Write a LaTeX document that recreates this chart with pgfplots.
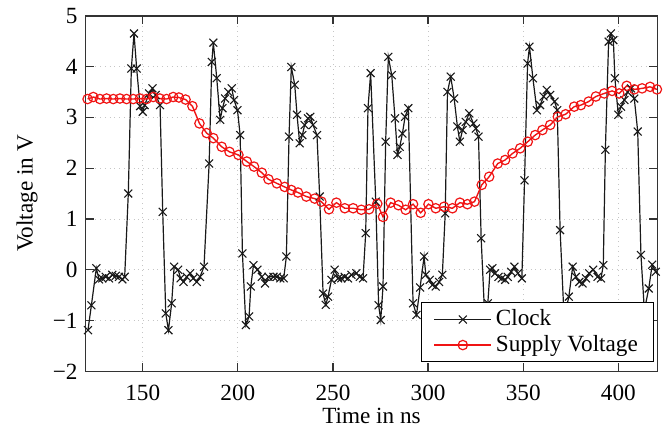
\documentclass[border=0pt]{standalone}
\usepackage{pgfplots}
\pgfplotsset{compat=1.18}
\usepackage{fontspec}
\setmainfont{Liberation Serif}
\newcommand{\cf}{\fontsize{11.6bp}{14bp}\selectfont}
\definecolor{supred}{RGB}{240,20,20}
\begin{document}
\begin{tikzpicture}
\cf
\begin{axis}[
  scale only axis,
  width=285.8bp, height=177.8bp,
  xmin=120, xmax=420.5, ymin=-2, ymax=5,
  xtick={150,200,250,300,350,400},
  xticklabels={150,200,250,300,350,400},
  ytick={-2,-1,0,1,2,3,4,5},
  yticklabels={−2,−1,0,1,2,3,4,5},
  tick label style={font=\cf},
  label style={font=\cf},
  xlabel={Time in ns}, ylabel={Voltage in V},
  xlabel style={at={(rel axis cs:0.5,-0.1257)}, anchor=center},
  ylabel style={at={(rel axis cs:-0.1027,0.5)}, anchor=center},
  grid=major,
  major grid style={line width=0.4bp, gray!45, dotted},
  axis line style={line width=0.8bp, black!80},
  major tick length=4bp,
  tick style={line width=0.6bp, black!80},
  xticklabel style={yshift=-3bp},
  yticklabel style={xshift=0bp},
  legend style={at={(rel axis cs:0.995,0.025)}, anchor=south east, font=\cf,
    draw=black, line width=0.6bp, inner xsep=6bp, inner ysep=1.5bp, row sep=-1bp,
    fill=white},
  legend cell align=left,
  legend image code/.code={\draw[mark repeat=2,mark phase=2] plot coordinates {(0cm,0cm) (0.5cm,0cm) (1cm,0cm)};},
  clip=true,
]
\addplot[black!90, line width=0.6bp, mark=x, mark size=2.8bp, mark options={solid, line width=0.55bp}] coordinates {
(121.2,-1.19) (123,-0.70) (125.6,0.03) (127,-0.19) (128.7,-0.17) (130.5,-0.14) (132.3,-0.17) (134,-0.10) (135.8,-0.12) (137.5,-0.14) (139.3,-0.19) (140.5,-0.14)
(142.4,1.50) (144,3.96) (145.4,4.65) (146.8,3.96) (148.6,3.22) (150,3.11) (151,3.24) (153.3,3.47) (155.1,3.57) (156.8,3.44) (159.1,3.24)
(160.5,1.14) (162.1,-0.86) (163.5,-1.19) (165.2,-0.66) (166.5,0.06) (168.6,0) (169.9,-0.17) (171.4,-0.24) (173.1,-0.14) (174.9,-0.07) (176.6,-0.17) (178.4,-0.24) (180.1,-0.14) (182.2,0.06)
(184.9,2.09) (186.3,4.09) (187.1,4.47) (188.9,3.77) (190.7,2.95) (191.9,3.18) (193.3,3.37) (195,3.50) (196.8,3.57) (198,3.34) (199.8,3.14) (201.2,2.65)
(202.4,0.32) (204.2,-1.09) (205.9,-0.92) (206.8,-0.33) (208.2,0.09) (210.3,0) (212.6,-0.14) (214.3,-0.27) (216.1,-0.14) (218.7,-0.14) (220.5,-0.14) (222.3,-0.17) (224.1,-0.17) (225.5,0.26)
(226.9,2.62) (228.1,3.99) (229.9,3.64) (231.1,3.05) (232.5,2.49) (233.9,2.65) (235.1,2.85) (236.9,2.98) (238.1,3.01) (239.5,2.85) (241.6,2.65)
(243,1.44) (244.8,-0.47) (246.2,-0.69) (247.4,-0.53) (249.2,-0.20) (250.9,0) (252.7,-0.17) (254.4,-0.17) (256.2,-0.14) (257.9,-0.17) (259.7,-0.10) (262.3,-0.07) (264.1,-0.14) (265.8,-0.17)
(267.2,0.72) (268.4,3.18) (269.8,3.87) (272.5,1.34) (274,-0.70) (275.1,-0.99) (276.3,-0.33)
(277.7,2.52) (279.1,4.19) (280.9,3.83) (282.6,2.98) (283.9,2.26) (285.1,2.42) (286.5,2.68) (287.9,3.01) (289.6,3.18)
(292.1,-0.66) (293.9,-0.89) (295.8,-0.35) (297.9,0.26) (298.8,-0.10) (300.9,-0.20) (302.3,-0.30) (304,-0.33) (305.8,-0.24) (307.5,-0.10)
(309,1.11) (310.2,3.50) (311.9,3.80) (313.7,3.37) (315.4,2.82) (316.7,2.52) (318.1,2.75) (319.8,2.91) (321.6,3.08) (323.8,2.88) (325.1,2.78) (326.5,2.62)
(327.9,0.62) (329.6,-0.79) (331.4,-0.66) (332.6,0) (333.8,0.03) (335.2,-0.07) (337,-0.14) (338.7,-0.17) (340.5,-0.20) (341.9,-0.14) (343.7,-0.04) (345.4,0.06) (347.2,-0.07) (349.3,-0.17)
(350.7,1.76) (352.3,4.06) (353.3,4.39) (355.1,3.77) (357.2,3.14) (358.9,3.24) (360.7,3.41) (362.4,3.54) (364.2,3.44) (366.5,3.31) (367.9,3.14)
(369.4,0.78) (371.5,-0.95) (374,-0.53) (376,0.06) (377.7,-0.14) (379.5,-0.24) (381.2,-0.27) (383,-0.17) (384.7,-0.07) (386.8,0) (389.1,-0.14) (390.9,-0.17) (392.1,0.09)
(393.2,2.36) (394.9,4.49) (396.1,4.65) (397.4,4.52) (398.2,3.77) (400,3.05) (401.4,3.21) (403.2,3.34) (404.9,3.50) (406.7,3.57) (408.4,3.37) (410.2,2.72)
(411.9,0.29) (413.7,-0.80) (416,-0.37) (417.8,0.10) (419.7,-0.04) (421.6,-0.14)
};
\addlegendentry{Clock}
\addplot[supred, line width=0.7bp, mark=o, mark size=2.35bp, mark options={solid, line width=0.6bp}] coordinates {
(121,3.36) (124,3.40) (127.5,3.36) (131,3.37) (134.5,3.36) (138,3.37) (141.5,3.36) (145,3.36) (148.5,3.37) (152,3.36) (155.5,3.40) (159,3.37) (162.5,3.36) (166,3.40) (169,3.39)
(172.5,3.35) (176.1,3.22) (179.8,2.88) (183.6,2.69) (187.1,2.59) (191.5,2.42) (195.6,2.32) (200.3,2.26) (204.7,2.13) (208.5,2.03) (212.6,1.91) (216.1,1.78) (220.5,1.70)
(224.6,1.63) (228.1,1.57) (231.6,1.52) (236,1.44) (240.4,1.40) (243.9,1.34) (247.9,1.19) (251.8,1.32) (256.2,1.21) (260.6,1.21) (264.9,1.18) (269,1.19)
(273.3,1.30) (276.3,1.04) (280.3,1.32) (284.4,1.27) (288.2,1.18) (292.1,1.29) (296.1,1.12) (300.2,1.29) (304,1.21) (308.4,1.24) (312.8,1.21) (316.7,1.32) (320.7,1.29)
(324.4,1.34) (328.2,1.67) (332.1,1.83) (336.6,2.09) (340.5,2.16) (344.4,2.29) (348.4,2.39) (352.4,2.52) (356.3,2.65) (360.1,2.75) (364.2,2.85) (368.2,3.01)
(372.3,3.06) (376.8,3.21) (380.3,3.24) (384.4,3.31) (388.2,3.41) (392.6,3.47) (396.7,3.52) (400.5,3.47) (404.4,3.62) (408.4,3.55) (412.5,3.57) (416.7,3.60) (420.3,3.55)
};
\addlegendentry{Supply Voltage}
\coordinate (bbbl) at (rel axis cs:-0.1499,-0.1566);
\coordinate (bbtr) at (rel axis cs:1.0117,1.0442);
\end{axis}
\pgfresetboundingbox
\path[use as bounding box] (bbbl) rectangle (bbtr);
\end{tikzpicture}
\end{document}
